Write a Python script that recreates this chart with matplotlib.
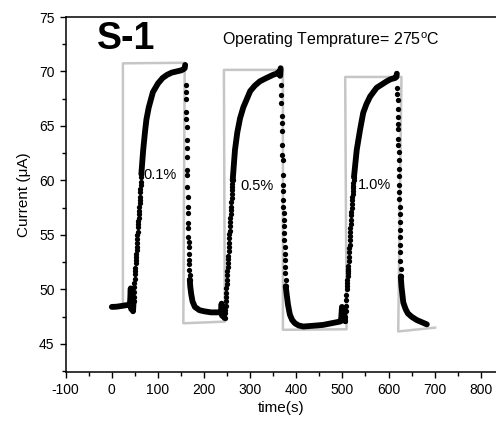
import matplotlib
matplotlib.use("Agg")
import matplotlib.pyplot as plt
from matplotlib.ticker import MultipleLocator

plt.rcParams['font.family'] = ['Liberation Sans', 'DejaVu Sans']
plt.rcParams['axes.unicode_minus'] = False

# response curve: solid parts (dense samples) and
# dotted parts (sparse samples during fast rise / fall)
base_t = [0, 10, 20, 30, 39, 40, 41, 42, 44, 46, 47]
base_i = [48.4, 48.42, 48.48, 48.55, 48.6, 49.2, 50.1, 48.2, 49.8, 48.0, 48.8]

rise1_t = [47, 47.5, 48, 48.5, 49, 49.5, 50, 50.5, 51, 51.5, 52, 52.5, 53, 53.5, 54,
           54.5, 55, 55.5, 56, 56.5, 57, 57.5, 58, 58.5, 59, 59.5, 60, 60.5, 61, 61.5,
           62, 62.5, 63, 63.5, 64]
rise1_i = [48.9, 49.3, 49.8, 50.2, 50.6, 51.0, 51.4, 51.7, 52.0, 52.4, 52.7, 53.0,
           53.3, 53.6, 53.9, 54.3, 54.6, 55.0, 55.3, 55.7, 56.0, 56.3, 56.6, 56.9,
           57.2, 57.6, 57.9, 58.2, 58.5, 58.9, 59.2, 59.6, 59.9, 60.3, 60.6]
top1_t = [64, 68, 72, 75, 80, 89, 100, 110, 120, 130, 140, 150, 155, 158, 159]
top1_i = [60.6, 62.8, 64.5, 65.6, 66.7, 68.1, 68.9, 69.4, 69.7, 69.9, 70.0, 70.1, 70.2, 70.3, 70.6]
fall1_t = [160, 160.5, 161, 161.3, 161.6, 162, 162.3, 162.6, 163, 163.3, 163.6, 164,
           164.3, 164.6, 165, 165.3, 165.6, 166, 166.3, 166.6, 167, 167.4, 167.8, 168.2,
           168.6, 169]
fall1_i = [68.8, 68.1, 67.5, 66.3, 65.6, 64.9, 63.7, 63.0, 62.2, 61.0, 60.5, 59.4,
           58.5, 57.6, 57.0, 56.1, 55.6, 54.8, 54.4, 53.9, 53.3, 52.7, 52.3, 51.8,
           51.3, 50.9]
low1_t = [169, 170, 172, 175, 180, 190, 200, 215, 230, 237, 238, 239, 241, 244]
low1_i = [50.9, 50.3, 49.6, 48.9, 48.4, 48.1, 48.0, 47.9, 47.9, 47.9, 48.7, 47.6, 47.8, 47.4]

rise2_t = [245, 245.5, 246, 246.5, 247, 247.5, 248, 248.5, 249, 249.5, 250, 250.5,
           251, 251.5, 252, 252.5, 253, 253.5, 254, 254.5, 255, 255.5, 256, 256.5,
           257, 257.5, 258, 258.5, 259, 259.5, 260, 260.5, 261, 261.5, 262]
rise2_i = [47.4, 47.8, 48.1, 48.5, 48.9, 49.3, 49.7, 50.1, 50.5, 50.9, 51.3, 51.7,
           52.1, 52.4, 52.8, 53.1, 53.5, 53.9, 54.3, 54.7, 55.1, 55.4, 55.8, 56.2,
           56.6, 56.9, 57.3, 57.6, 58.0, 58.4, 58.8, 59.1, 59.4, 59.7, 60.0]
top2_t = [262, 267, 272, 278, 285, 292, 300, 310, 321, 335, 350, 357, 363, 365, 366]
top2_i = [60.0, 62.8, 64.4, 65.7, 66.7, 67.4, 68.2, 68.7, 69.1, 69.4, 69.7, 69.8, 70.0, 69.6, 70.3]
fall2_t = [367, 367.4, 367.8, 368.2, 368.6, 369, 369.4, 369.8, 370.2, 370.6, 371,
           371.4, 371.8, 372.2, 372.6, 373, 373.4, 373.8, 374.2, 374.6, 375, 375.4,
           375.8, 376.2, 376.6, 377]
fall2_i = [68.8, 67.8, 67.1, 65.9, 65.3, 64.5, 63.3, 62.3, 61.9, 60.5, 59.6,
           59.0, 58.2, 57.6, 57.0, 56.4, 55.8, 55.2, 54.5, 53.9, 53.3, 52.7,
           52.1, 51.5, 50.9, 50.3]
low2_t = [377, 379, 382, 386, 391, 397, 405, 415, 430, 445, 458, 470, 482, 494, 497,
          499, 501, 503, 506]
low2_i = [50.3, 49.6, 48.6, 47.7, 47.2, 46.9, 46.7, 46.6, 46.65, 46.7, 46.75, 46.85,
          46.95, 47.05, 47.1, 48.4, 47.3, 48.0, 47.1]

rise3_t = [506, 506.5, 507, 507.5, 508, 508.5, 509, 509.5, 510, 510.5, 511, 511.5,
           512, 512.5, 513, 513.5, 514, 514.5, 515, 515.5, 516, 516.5, 517, 517.5,
           518, 518.5, 519, 519.5, 520, 520.5, 521, 521.5, 522, 522.5, 523, 523.5,
           524, 524.5, 525]
rise3_i = [47.1, 47.5, 48.0, 48.5, 49.0, 49.5, 50.0, 50.3, 50.6, 50.9, 51.2, 51.5,
           51.7, 51.9, 52.2, 52.6, 53.0, 53.4, 53.8, 54.1, 54.5, 54.9, 55.3, 55.6,
           56.0, 56.4, 56.8, 57.1, 57.5, 57.8, 58.2, 58.5, 58.8, 59.0, 59.3, 59.5,
           59.8, 60.0, 60.3]
top3_t = [525, 531, 538, 545, 552, 560, 567, 574, 585, 596, 605, 614, 617, 618]
top3_i = [60.3, 62.8, 64.6, 66.2, 67.0, 67.7, 68.1, 68.5, 68.8, 69.1, 69.3, 69.4, 69.5, 69.8]
fall3_t = [619, 619.3, 619.6, 619.9, 620.2, 620.5, 620.8, 621.1, 621.4, 621.7, 622,
           622.3, 622.6, 622.9, 623.2, 623.5, 623.8, 624.1, 624.4, 624.7, 625, 625.3,
           625.6, 625.9, 626.2, 626.5]
fall3_i = [68.5, 67.9, 67.4, 66.6, 65.8, 65.2, 64.7, 63.8, 63.3, 62.6, 61.9,
           61.1, 60.4, 59.6, 58.9, 58.3, 57.6, 56.9, 56.2, 55.5, 54.8, 54.1,
           53.4, 52.6, 51.9, 51.2]
low3_t = [626.5, 628, 632, 637, 642, 650, 661, 672, 683]
low3_i = [51.2, 50.3, 48.8, 48.2, 47.8, 47.5, 47.2, 47.0, 46.8]

# gas on / off guide (grey square wave)
gas_t = [24, 24, 158, 155, 245, 243, 371, 371, 509, 506, 628, 621, 701]
gas_i = [48.8, 70.75, 70.8, 46.9, 47.05, 70.15, 70.15, 46.3, 46.35, 69.5, 69.5, 46.15, 46.5]

conc_labels = ['0.1%', '0.5%', '1.0%']
conc_t = [69, 278, 534]
conc_i = [60.5, 59.5, 59.6]

fig = plt.figure(figsize=(4.96, 4.23), dpi=100)
ax = fig.add_axes([0.1325, 0.1206, 0.8675, 0.8392])

ax.plot(gas_t, gas_i, color='#c6c6c6', lw=1.8, zorder=1)

solid = [(base_t, base_i), (top1_t, top1_i), (low1_t, low1_i), (top2_t, top2_i),
         (low2_t, low2_i), (top3_t, top3_i), (low3_t, low3_i)]
for t, i in solid:
    ax.plot(t, i, color='black', lw=4.2, solid_capstyle='round',
            solid_joinstyle='round', zorder=2)

dotted = [(rise1_t, rise1_i), (fall1_t, fall1_i), (rise2_t, rise2_i),
          (fall2_t, fall2_i), (rise3_t, rise3_i), (fall3_t, fall3_i)]
for t, i in dotted:
    ax.plot(t, i, 'o', color='black', ms=3.8, mew=0, zorder=2)

for lab, t, i in zip(conc_labels, conc_t, conc_i):
    ax.text(t, i, lab, fontsize=10.5, ha='left', va='center')

ax.text(-33, 73.0, 'S-1', fontsize=27, fontweight='bold', ha='left', va='center')
ax.text(239, 72.9, r'Operating Temprature= 275$^\mathregular{o}$C', fontsize=11.5,
        ha='left', va='center')

ax.set_xlim(-100, 833)
ax.set_ylim(42.43, 75)
ax.xaxis.set_major_locator(MultipleLocator(100))
ax.xaxis.set_minor_locator(MultipleLocator(50))
ax.yaxis.set_minor_locator(MultipleLocator(2.5))
ax.set_yticks([45, 50, 55, 60, 65, 70, 75])
ax.tick_params(which='major', direction='out', length=4.5, width=1, labelsize=10)
ax.tick_params(which='minor', direction='out', length=3, width=1)
ax.spines['right'].set_visible(False)
for s in ['left', 'bottom', 'top']:
    ax.spines[s].set_linewidth(1.1)

ax.set_xlabel('time(s)', fontsize=11, labelpad=3)
ax.set_ylabel('Current (μA)', fontsize=11, labelpad=6)

fig.savefig('out.png', dpi=100)
